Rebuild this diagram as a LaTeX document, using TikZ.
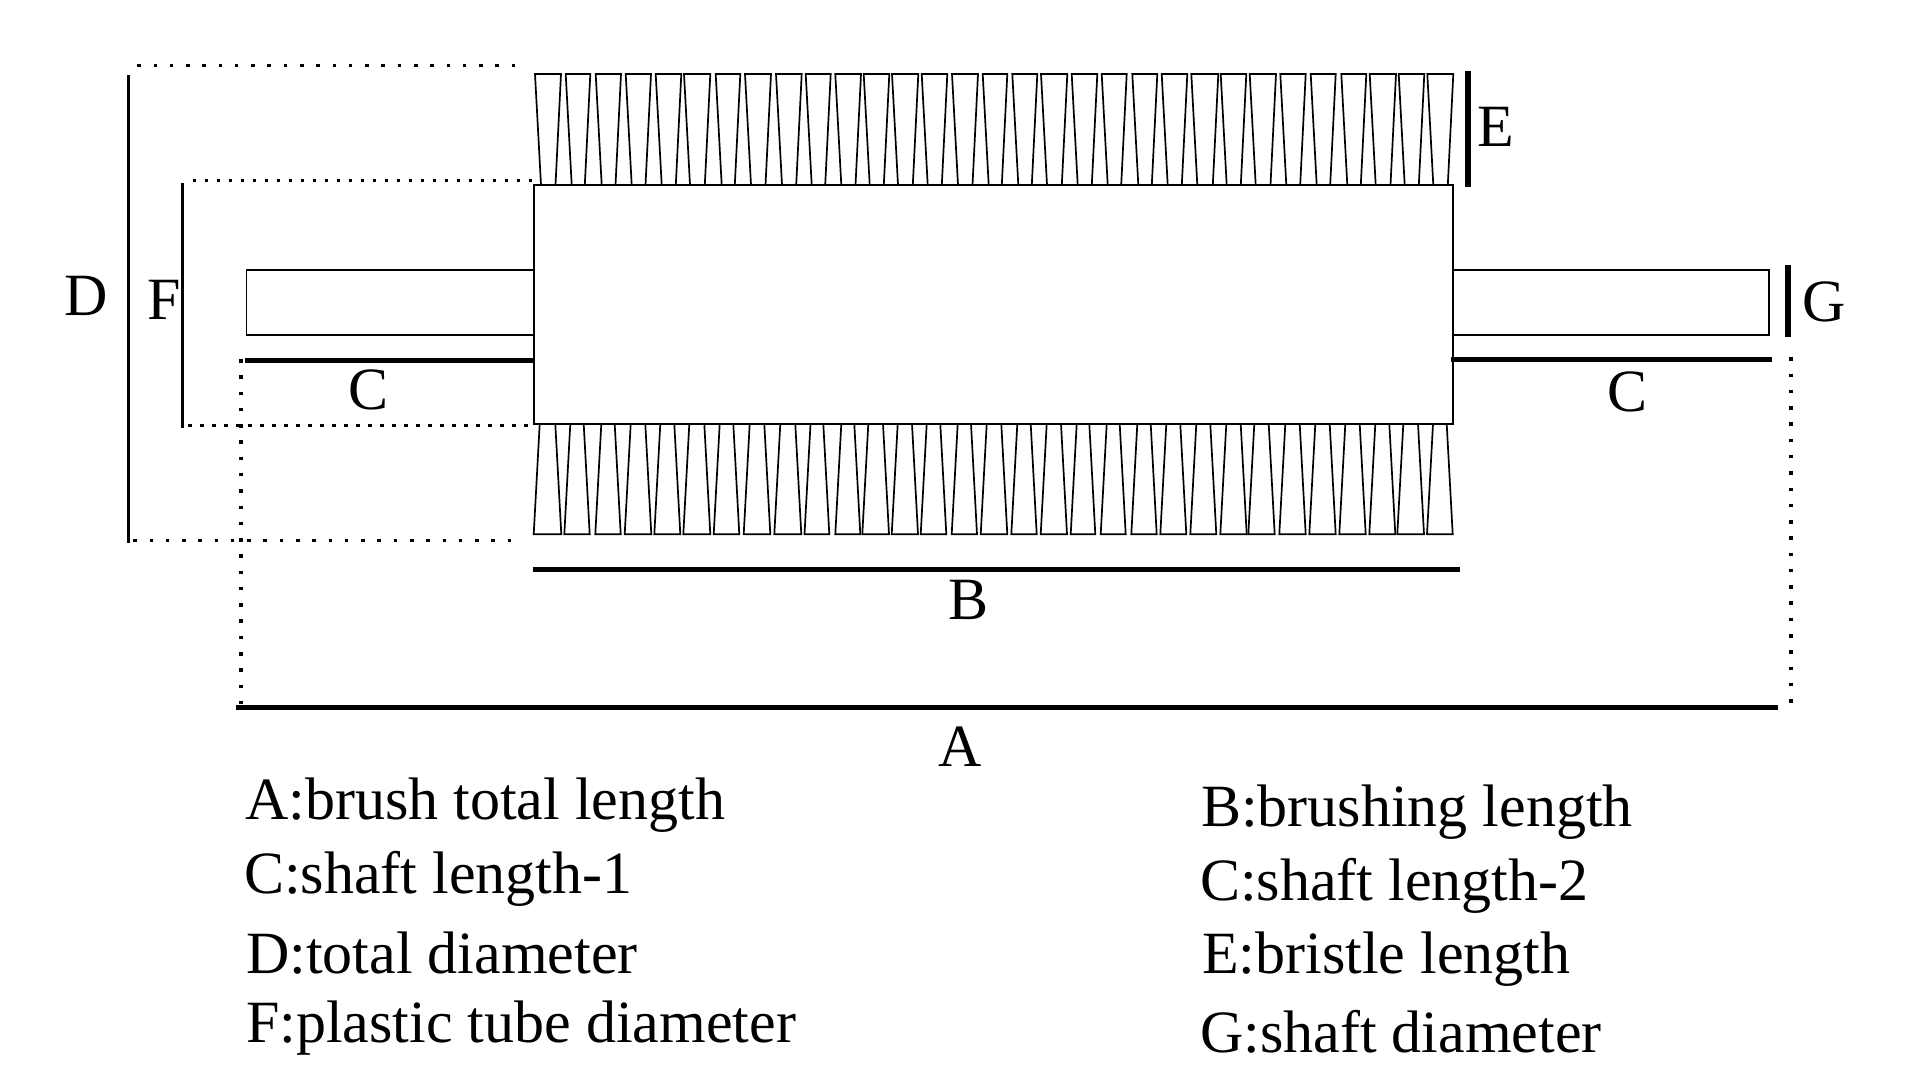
\documentclass[tikz,border=0pt]{standalone}
\usepackage{fontspec}
\setmainfont{Liberation Serif}
\begin{document}
\begin{tikzpicture}[x=1pt,y=-1pt]
    \tikzset{Letter/.style={%
        inner sep=0pt,%
        font=\fontsize{60}{60}\selectfont,%
    }}
    \tikzset{Legend/.style={Letter, anchor=base west}}
    \tikzset{Body/.style={draw=black, line width=1.7pt, fill=white}}
    \tikzset{Bristle/.style={draw=black, line width=1.7pt, line join=miter}}
    \tikzset{BarThin/.style={line width=3.2pt}}
    \tikzset{BarThick/.style={line width=5pt}}
    \tikzset{BarHeavy/.style={line width=5.5pt}}
    \tikzset{DotWide/.style={line width=3.5pt, dash pattern=on 3.5pt off 12.78pt}}
    \tikzset{DotNarrow/.style={line width=3.5pt, dash pattern=on 3.5pt off 8.5pt}}

    \useasboundingbox (0,0) rectangle (1920,1080);

    % upper bristles
    \foreach \bl/\br in {535/561,565.7/590.3,595.7/621,625.7/651,655.7/681.3,684/710.3,
        715.7/740.3,745/771,776/801.7,805.7/830.7,835.3/861,863.7/889.3,892/918.3,
        921.7/947.3,952/978,982.7/1007.3,1012.3/1037.3,1041/1067.3,1071.7/1097.3,
        1101.7/1126.7,1132.3/1157.3,1161.7/1187.3,1191.3/1218.3,1220.7/1246.3,
        1249.7/1276,1280.3/1305.7,1310.7/1335.7,1341.3/1366.3,1369.7/1396,
        1398.7/1424.3,1427.3/1453.3} {
        \draw[Bristle] (\bl,74) -- (\br,74) -- (\br-5.5,185) -- (\bl+6,185) -- cycle;
    }
    % lower bristles
    \foreach \bl/\br in {533.7/561.3,564.3/589.7,595.3/620.7,624.7/651.3,654.3/680.3,
        683.3/710.3,713.7/739.3,743.7/770.3,774.3/801.3,804.5/829.3,835.3/860.3,
        862.3/889,891.7/918,920.7/946.3,951.7/977,980.7/1007.3,1011.3/1036.7,
        1040.7/1067,1070.7/1095.3,1100.7/1125.7,1131.3/1156.7,1160.3/1186.3,
        1190.3/1216.3,1220.3/1246.7,1248.3/1274.7,1279.3/1305.7,1309.3/1335.7,
        1339.3/1365.7,1369.3/1395.3,1397.3/1424,1427/1452.7} {
        \draw[Bristle] (\bl+6,424) -- (\br-6,424) -- (\br,534.3) -- (\bl,534.3) -- cycle;
    }

    % shafts and tube
    \draw[Body] (246.5,270) rectangle (534,335);
    \draw[Body] (1453,270) rectangle (1769,335);
    \draw[Body] (534,185) rectangle (1453,424);

    % dimension bars
    \coordinate (a0) at (236,707);
    \coordinate (a1) at (1778,707);
    \coordinate (b0) at (533,569);
    \coordinate (b1) at (1460,569);
    \coordinate (c0) at (245,360);
    \coordinate (c1) at (534,360);
    \coordinate (c2) at (1451,359);
    \coordinate (c3) at (1772,359);
    \coordinate (d0) at (128.5,75);
    \coordinate (d1) at (128.5,543);
    \coordinate (e0) at (1468,71);
    \coordinate (e1) at (1468,187);
    \coordinate (f0) at (182.5,183);
    \coordinate (f1) at (182.5,428);
    \coordinate (g0) at (1788,265);
    \coordinate (g1) at (1788,337);
    \draw[BarThick] (a0) -- (a1);
    \draw[BarThick] (b0) -- (b1);
    \draw[BarThick] (c0) -- (c1);
    \draw[BarThick] (c2) -- (c3);
    \draw[BarThin] (d0) -- (d1);
    \draw[BarHeavy] (e0) -- (e1);
    \draw[BarThin] (f0) -- (f1);
    \draw[BarHeavy] (g0) -- (g1);

    % dotted guides
    \draw[DotWide] (137.25,65.3) -- (514.5,65.3);
    \draw[DotNarrow] (192.85,180.3) -- (532.5,180.3);
    \draw[DotNarrow] (188.25,425.3) -- (527.5,425.3);
    \draw[DotWide] (133.25,540.7) -- (511.5,540.7);
    \draw[DotWide] (241,359) -- (241,704);
    \draw[DotWide] (1791,357.25) -- (1791,704);

    % letters
    \node[Letter] (lA) at (960,747) {A};
    \node[Letter] (lB) at (968,600) {B};
    \node[Letter] (lCa) at (368.5,390) {C};
    \node[Letter] (lCb) at (1627.5,392) {C};
    \node[Letter] (lD) at (86,296) {D};
    \node[Letter] (lE) at (1495.5,127) {E};
    \node[Letter] (lF) at (164,300) {F};
    \node[Letter] (lG) at (1824,302) {G};

    % legend
    \node[Legend] (txtA) at (245,819.5) {A:brush total length};
    \node[Legend] (txtC) at (244,893.5) {C:shaft length-1};
    \node[Legend] (txtD) at (246,973.5) {D:total diameter};
    \node[Legend] (txtF) at (246,1042.5) {F:plastic tube diameter};
    \node[Legend] (txtB) at (1201,826.5) {B:brushing length};
    \node[Legend] (txtCb) at (1200,900.5) {C:shaft length-2};
    \node[Legend] (txtE) at (1202,973.5) {E:bristle length};
    \node[Legend] (txtG) at (1200,1052.5) {G:shaft diameter};
\end{tikzpicture}
\end{document}
